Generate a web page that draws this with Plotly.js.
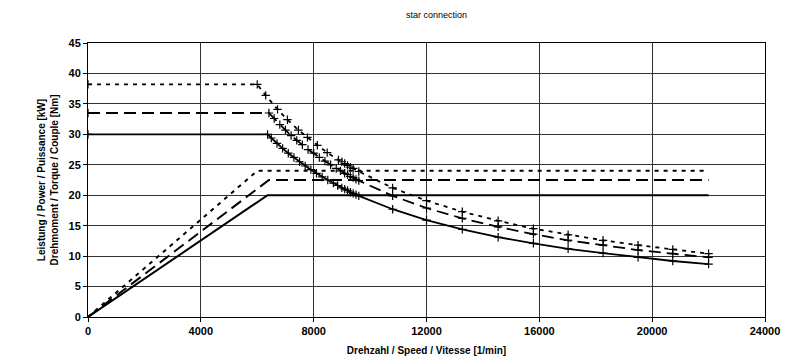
<!DOCTYPE html>
<html>
<head>
<meta charset="utf-8">
<script src="https://cdn.plot.ly/plotly-3.0.1.min.js"></script>
<style>
  html, body { margin: 0; padding: 0; background: #fff; }
  #chart { width: 795px; height: 361px; }
</style>
</head>
<body>
<div id="chart"></div>
<script>
// Speed points [1/min] of each characteristic
const speedSolid = [0, 6366, 6500, 6700, 6900, 7100, 7300, 7500, 7700, 7900, 8100, 8300, 8500, 8700, 8850, 9000, 9100, 9200, 9300, 9400, 9500, 9600, 10800, 12000, 13270, 14540, 15790, 17020, 18260, 19500, 20730, 22000];
const speedDashed = [0, 6414, 6600, 6800, 7000, 7200, 7400, 7600, 7800, 8000, 8200, 8400, 8600, 8800, 8950, 9100, 9200, 9300, 9400, 9500, 9600, 10800, 12000, 13270, 14540, 15790, 17020, 18260, 19500, 20730, 22000];
const speedDotted = [0, 6000, 6300, 6720, 7070, 7460, 7780, 8130, 8480, 8880, 9000, 9100, 9200, 9300, 9400, 9600, 10800, 12000, 13270, 14540, 15790, 17020, 18260, 19500, 20730, 22000];

// Torque [Nm]
const torqueSolid = [30.0, 30.0, 29.4, 28.5, 27.7, 26.9, 26.2, 25.5, 24.8, 24.2, 23.6, 23.0, 22.5, 22.0, 21.6, 21.2, 21.0, 20.8, 20.5, 20.3, 20.1, 19.9, 17.7, 15.9, 14.4, 13.1, 12.1, 11.2, 10.5, 9.8, 9.2, 8.7];
const torqueDashed = [33.5, 33.5, 32.6, 31.6, 30.7, 29.8, 29.0, 28.3, 27.5, 26.9, 26.2, 25.6, 25.0, 24.4, 24.0, 23.6, 23.4, 23.1, 22.9, 22.6, 22.4, 19.9, 17.9, 16.2, 14.8, 13.6, 12.6, 11.8, 11.0, 10.4, 9.8];
const torqueDotted = [38.2, 38.2, 36.4, 34.1, 32.4, 30.7, 29.5, 28.2, 27.0, 25.8, 25.5, 25.2, 24.9, 24.6, 24.4, 23.9, 21.2, 19.1, 17.3, 15.8, 14.5, 13.5, 12.6, 11.8, 11.1, 10.4];

// Power [kW]: rise to the corner speed, then constant
const powerSpeedSolid = [0, 6366, 22000];
const powerSolid = [0, 20, 20];
const powerSpeedDashed = [0, 6414, 22000];
const powerDashed = [0, 22.5, 22.5];
const powerSpeedDotted = [0, 6000, 22000];
const powerDotted = [0, 24, 24];

// Axis ticks
const xTicks = [0, 4000, 8000, 12000, 16000, 20000, 24000];
const yTicks = [0, 5, 10, 15, 20, 25, 30, 35, 40, 45];

const DASH_SOLID = 'solid';
const DASH_LONG = '12px,6px';
const DASH_SHORT = '4px,5px';

function powerTrace(x, y, dash) {
  return {
    x: x, y: y, type: 'scatter', mode: 'lines',
    line: { color: '#000', width: 2, dash: dash },
    hoverinfo: 'skip', showlegend: false
  };
}

function torqueTrace(x, y, dash) {
  return {
    x: x, y: y, type: 'scatter', mode: 'lines+markers',
    line: { color: '#000', width: 1.8, dash: dash },
    marker: { symbol: 'cross-thin', size: 6, color: '#000', line: { color: '#000', width: 1.2 } },
    hoverinfo: 'skip', showlegend: false
  };
}

const traces = [
  powerTrace(powerSpeedSolid, powerSolid, DASH_SOLID),
  powerTrace(powerSpeedDashed, powerDashed, DASH_LONG),
  powerTrace(powerSpeedDotted, powerDotted, DASH_SHORT),
  torqueTrace(speedSolid, torqueSolid, DASH_SOLID),
  torqueTrace(speedDashed, torqueDashed, DASH_LONG),
  torqueTrace(speedDotted, torqueDotted, DASH_SHORT)
];

const FONT = 'Liberation Sans, Arial, sans-serif';

const layout = {
  width: 795,
  height: 361,
  margin: { l: 88, r: 30, t: 43, b: 44 },
  paper_bgcolor: '#fff',
  plot_bgcolor: '#fff',
  showlegend: false,
  title: {
    text: 'star connection',
    font: { family: FONT, size: 9, color: '#000' },
    x: 0.549, xanchor: 'center',
    y: 0.958, yanchor: 'middle'
  },
  xaxis: {
    range: [0, 24000],
    tickvals: xTicks,
    tickformat: 'd',
    showgrid: true, gridcolor: '#333', gridwidth: 1,
    zeroline: false,
    showline: true, linecolor: '#000', linewidth: 1, mirror: true,
    ticks: 'outside', ticklen: 4, tickcolor: '#000',
    tickfont: { family: FONT, size: 11, color: '#000', weight: 700 },
    automargin: false,
    title: {
      text: 'Drehzahl / Speed / Vitesse [1/min]',
      font: { family: FONT, size: 10, color: '#000', weight: 700 },
      standoff: 10
    }
  },
  yaxis: {
    range: [0, 45],
    tickvals: yTicks,
    showgrid: true, gridcolor: '#333', gridwidth: 1,
    zeroline: true, zerolinecolor: '#000', zerolinewidth: 2,
    showline: true, linecolor: '#000', linewidth: 1, mirror: true,
    ticks: 'outside', ticklen: 4, tickcolor: '#000',
    tickfont: { family: FONT, size: 11, color: '#000', weight: 700 },
    automargin: false,
    title: {
      text: 'Leistung / Power / Puissance [kW]<br>Drehmoment / Torque / Couple [Nm]',
      font: { family: FONT, size: 10, color: '#000', weight: 700 },
      standoff: 8
    }
  }
};

Plotly.newPlot('chart', traces, layout, { staticPlot: true, displayModeBar: false });
</script>
</body>
</html>
